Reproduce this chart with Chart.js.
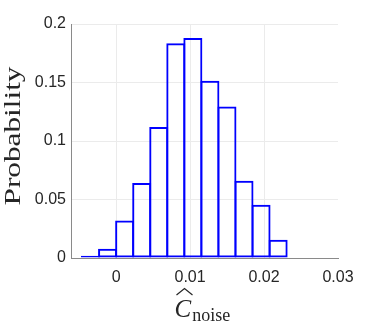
<!DOCTYPE html>
<html>
<head>
<meta charset="utf-8">
<script src="https://cdn.jsdelivr.net/npm/chart.js@4"></script>
<style>
html,body{margin:0;padding:0;background:#fff;}
canvas{display:block;}
</style>
</head>
<body>
<canvas id="c" width="374" height="332"></canvas>
<script>
// Histogram bin edges (x) and bin probabilities
const binEdges = [-0.00461, -0.00231, 0, 0.00231, 0.00461, 0.00692, 0.00922, 0.01153, 0.01383, 0.01614, 0.01844, 0.02075, 0.02306];
const probabilities = [0.002, 0.008, 0.032, 0.064, 0.112, 0.1835, 0.188, 0.1516, 0.1294, 0.066, 0.0455, 0.0156];
const xTicks = [0, 0.01, 0.02, 0.03];
const yTicks = [0, 0.05, 0.1, 0.15, 0.2];
const yTitle = 'Probability';
const xTitleMain = 'C';
const xTitleSub = 'noise';
const xMin = -0.0061, xMax = 0.03;

const centers = probabilities.map((p, i) => (binEdges[i] + binEdges[i + 1]) / 2);
const points = probabilities.map((p, i) => ({ x: centers[i], y: p }));

const titles = {
  id: 'titles',
  afterDraw(chart) {
    const ctx = chart.ctx;
    ctx.save();
    ctx.fillStyle = '#262626';
    // y title
    ctx.save();
    ctx.translate(14, 136);
    ctx.rotate(-Math.PI / 2);
    ctx.scale(1.36, 1);
    ctx.font = '23px "Liberation Serif"';
    ctx.textAlign = 'center';
    ctx.textBaseline = 'middle';
    ctx.fillText(yTitle, 0, 0);
    ctx.restore();
    // x title
    const xa = chart.scales.x;
    const cx = xa.left + (xa.right - xa.left) / 2;
    ctx.textBaseline = 'alphabetic';
    ctx.textAlign = 'left';
    ctx.font = 'italic 25px "Liberation Serif"';
    const x0 = cx - 30;
    ctx.fillText(xTitleMain, x0, 317);
    const cw = ctx.measureText(xTitleMain).width;
    // hat
    ctx.strokeStyle = '#262626';
    ctx.lineWidth = 1.2;
    ctx.beginPath();
    ctx.moveTo(x0 + 2, 295);
    ctx.lineTo(x0 + 10, 288.5);
    ctx.lineTo(x0 + 18, 295);
    ctx.stroke();
    ctx.font = '18px "Liberation Serif"';
    ctx.fillText(xTitleSub, x0 + cw + 1, 321);
    ctx.restore();
  }
};

new Chart(document.getElementById('c'), {
  type: 'bar',
  data: {
    datasets: [{
      data: points,
      xAxisID: 'xb',
      backgroundColor: 'rgba(255,255,255,0)',
      borderColor: '#0000ff',
      borderWidth: 2,
      borderSkipped: false,
      inflateAmount: 0,
      barPercentage: 1.117,
      categoryPercentage: 1
    }]
  },
  options: {
    responsive: false,
    animation: false,
    devicePixelRatio: 1,
    layout: { padding: { top: 24, right: 36, left: 0, bottom: 0 } },
    plugins: { legend: { display: false }, tooltip: { enabled: false } },
    scales: {
      xb: {
        type: 'linear',
        display: false,
        offset: false,
        min: xMin,
        max: xMax,
        afterBuildTicks(s) { s.ticks = centers.map(v => ({ value: v })); }
      },
      x: {
        type: 'linear',
        offset: false,
        min: xMin,
        max: xMax,
        afterFit(s) { s.height = 74; },
        afterBuildTicks(s) { s.ticks = xTicks.map(v => ({ value: v })); },
        ticks: {
          includeBounds: false,
          padding: 10,
          maxRotation: 0,
          autoSkip: false,
          color: '#262626',
          font: { family: '"Liberation Sans"', size: 16 },
          callback: v => String(+(+v).toFixed(3))
        },
        grid: {
          color: c => (c.tick && c.tick.value >= xMax - 1e-9) ? 'rgba(0,0,0,0)' : '#ebebeb',
          drawTicks: false, lineWidth: 1, offset: false
        },
        border: { color: '#8a8a8a', width: 1 }
      },
      y: {
        min: 0,
        max: 0.2,
        afterFit(s) { s.width = 71; },
        afterBuildTicks(s) { s.ticks = yTicks.map(v => ({ value: v })); },
        ticks: {
          padding: 5,
          autoSkip: false,
          color: '#262626',
          font: { family: '"Liberation Sans"', size: 16 },
          callback: v => String(+(+v).toFixed(3))
        },
        grid: { color: '#ebebeb', drawTicks: false, lineWidth: 1 },
        border: { color: '#8a8a8a', width: 1 }
      }
    }
  },
  plugins: [titles]
});
</script>
</body>
</html>
